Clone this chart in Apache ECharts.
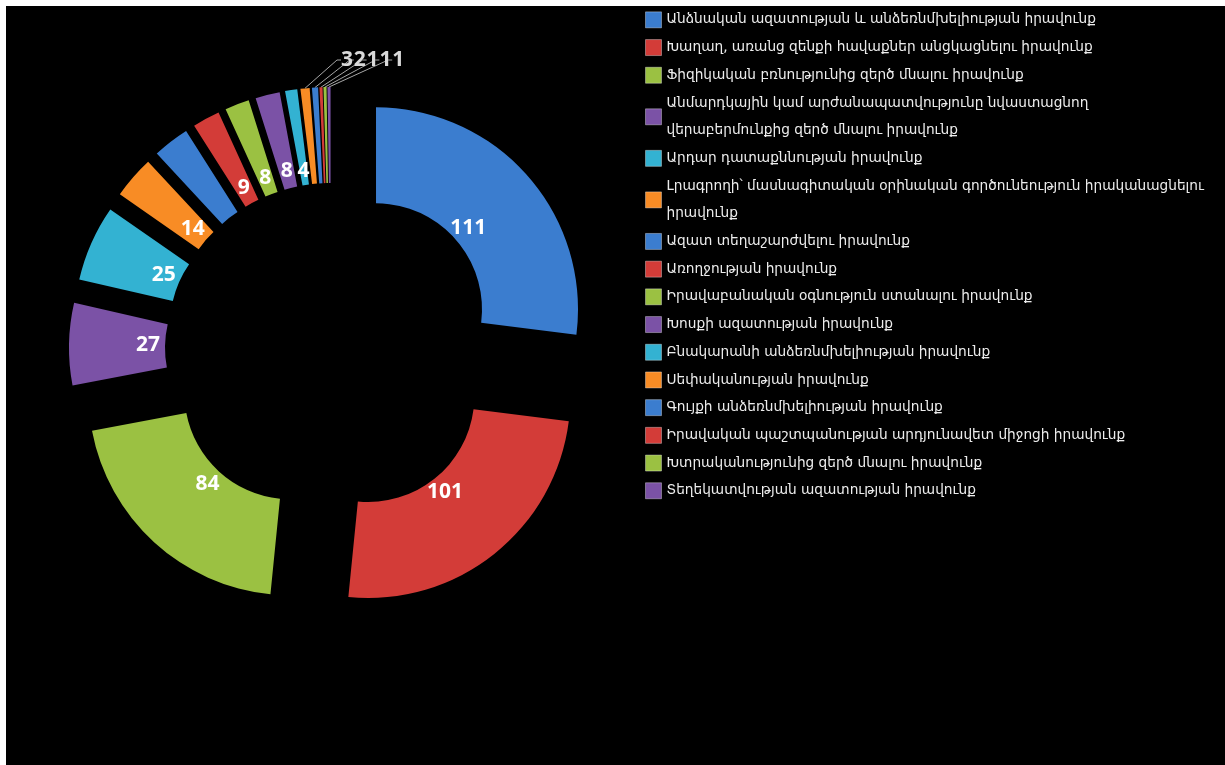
<!DOCTYPE html>
<html>
<head>
<meta charset="utf-8">
<script src="https://cdn.jsdelivr.net/npm/echarts@6/dist/echarts.min.js"></script>
<style>
html,body{margin:0;padding:0;background:#fff;width:1225px;height:765px;overflow:hidden;}
#chart{position:absolute;left:6px;top:6px;width:1219px;height:759px;background:#000;}
</style>
</head>
<body>
<div id="chart"></div>
<script>
// ---- data ----
const categories = [
  "Անձնական ազատության և անձեռնմխելիության իրավունք",
  "Խաղաղ, առանց զենքի հավաքներ անցկացնելու իրավունք",
  "Ֆիզիկական բռնությունից զերծ մնալու իրավունք",
  "Անմարդկային կամ արժանապատվությունը նվաստացնող\nվերաբերմունքից զերծ մնալու իրավունք",
  "Արդար դատաքննության իրավունք",
  "Լրագրողի՝ մասնագիտական օրինական գործունեություն իրականացնելու\nիրավունք",
  "Ազատ տեղաշարժվելու իրավունք",
  "Առողջության իրավունք",
  "Իրավաբանական օգնություն ստանալու իրավունք",
  "Խոսքի ազատության իրավունք",
  "Բնակարանի անձեռնմխելիության իրավունք",
  "Սեփականության իրավունք",
  "Գույքի անձեռնմխելիության իրավունք",
  "Իրավական պաշտպանության արդյունավետ միջոցի իրավունք",
  "Խտրականությունից զերծ մնալու իրավունք",
  "Տեղեկատվության ազատության իրավունք"
];
const values = [111, 101, 84, 27, 25, 14, 12, 9, 8, 8, 4, 3, 2, 1, 1, 1];
const palette = ['#3b7dcf', '#d33c38', '#9bc142', '#7b52a6', '#33b2d2', '#f88c25'];
const smallFrom = 11;   // items labelled together above the ring
const narrowIndex = 10; // narrow slice whose inside label is placed by hand

const chart = echarts.init(document.getElementById('chart'), null, {renderer: 'canvas'});
const center = [325, 343];
const explode = 60;
const innerR = 106, outerR = 202;
const labelR = 120;
const total = values.reduce((a, b) => a + b, 0);

const ringData = categories.map((c, i) => ({
  name: c, value: values[i], selected: true,
  itemStyle: {color: palette[i % palette.length]}
}));
const labelData = categories.map((c, i) => ({
  name: c, value: values[i], selected: true,
  label: {show: i < narrowIndex}
}));
const smallLabelData = categories.map((c, i) => ({
  name: c, value: values[i],
  label: i === narrowIndex ? {show: true, color: '#fff'} : {show: i >= smallFrom},
  labelLine: {show: i >= smallFrom}
}));

const ghost = {color: 'rgba(0,0,0,0)'};
const labelFont = {fontSize: 21, fontWeight: 'bold', fontFamily: 'Open Sans'};

chart.setOption({
  backgroundColor: '#000',
  animation: false,
  legend: {
    orient: 'vertical',
    left: 639, top: 0, padding: 0,
    itemGap: 0, itemWidth: 16, itemHeight: 16,
    icon: 'rect',
    itemStyle: {borderColor: 'rgba(255,255,255,0.35)', borderWidth: 1},
    textStyle: {color: '#ececec', fontSize: 13.7, lineHeight: 27.7, fontFamily: 'DejaVu Sans'},
    selectedMode: false,
    data: categories
  },
  series: [
    {
      type: 'pie',
      center: center,
      radius: [innerR, outerR],
      startAngle: 90,
      clockwise: true,
      selectedMode: 'multiple',
      selectedOffset: explode,
      emphasis: {disabled: true},
      select: {itemStyle: {}},
      label: {show: false},
      labelLine: {show: false},
      data: ringData
    },
    {
      type: 'pie',
      center: center,
      radius: [labelR - 30, labelR + 30],
      startAngle: 90,
      clockwise: true,
      selectedMode: 'multiple',
      selectedOffset: explode,
      silent: true,
      emphasis: {disabled: true},
      itemStyle: ghost,
      select: {itemStyle: ghost},
      label: Object.assign({position: 'inside', formatter: '{c}', color: '#fff'}, labelFont),
      labelLine: {show: false},
      data: labelData
    },
    {
      type: 'pie',
      center: center,
      radius: [outerR, outerR + explode],
      startAngle: 90,
      clockwise: true,
      silent: true,
      avoidLabelOverlap: false,
      emphasis: {disabled: true},
      itemStyle: ghost,
      label: Object.assign({position: 'outside', formatter: '{c}', color: '#d9d9d9'}, labelFont),
      labelLine: {length: 6, length2: 4, lineStyle: {color: '#a6a6a6', width: 1}},
      labelLayout: function (p) {
        const i = p.dataIndex;
        if (i === narrowIndex) {
          const before = values.slice(0, i).reduce((a, b) => a + b, 0);
          const ang = (before + values[i] / 2) / total * 2 * Math.PI;
          const r = labelR + explode;
          return {x: center[0] + r * Math.sin(ang), y: center[1] - r * Math.cos(ang),
                  align: 'center', verticalAlign: 'middle'};
        }
        const k = i - smallFrom;
        if (k < 0) return;
        return {x: center[0] + 10 + k * 12.8, y: center[1] - 289, align: 'left', verticalAlign: 'middle'};
      },
      data: smallLabelData
    }
  ]
});
</script>
</body>
</html>
